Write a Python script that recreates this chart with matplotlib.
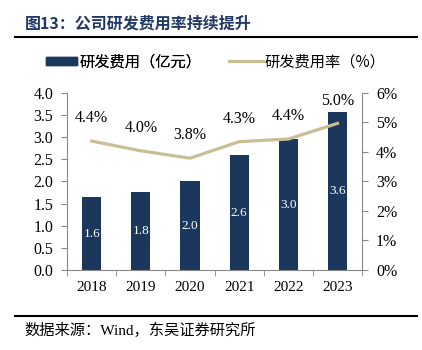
import matplotlib
matplotlib.use("Agg")
import matplotlib.pyplot as plt
from matplotlib.lines import Line2D
from matplotlib.patches import Patch
import numpy as np

years = ["2018", "2019", "2020", "2021", "2022", "2023"]
rd_expense = [1.64, 1.77, 2.01, 2.59, 2.96, 3.56]
rd_labels = ["1.6", "1.8", "2.0", "2.6", "3.0", "3.6"]
rd_rate = [4.37, 4.04, 3.79, 4.35, 4.44, 4.97]
rate_labels = ["4.4%", "4.0%", "3.8%", "4.3%", "4.4%", "5.0%"]

NAVY = "#1b375c"
KHAKI = "#c9bf95"
FONT = ["Liberation Serif", "Noto Sans CJK SC"]
CJK = ["Noto Sans CJK SC"]
plt.rcParams["font.family"] = FONT

fig = plt.figure(figsize=(4.22, 3.5), dpi=100)
ax = fig.add_axes([0.159, 0.2286, 0.699, 0.5057])
ax2 = ax.twinx()

x = np.arange(len(years))
ax.bar(x, rd_expense, width=0.39, color=NAVY, zorder=2)
for xi, v, lab in zip(x, rd_expense, rd_labels):
    ax.text(xi, v / 2, lab, color="white", ha="center", va="center", fontsize=9.5)

ax2.plot(x, rd_rate, color=KHAKI, lw=2.3, zorder=3)
for xi, v, lab in zip(x, rd_rate, rate_labels):
    ax2.text(xi, v + 0.5, lab, ha="center", va="bottom", fontsize=11.5)

ax.set_xlim(-0.5, len(years) - 0.5)
ax.set_ylim(0, 4.0)
ax.set_yticks(np.arange(0, 4.01, 0.5))
ax.set_yticklabels([f"{v:.1f}" for v in np.arange(0, 4.01, 0.5)])
ax2.set_ylim(0, 6)
ax2.set_yticks(range(0, 7))
ax2.set_yticklabels([f"{v}%" for v in range(0, 7)])

ax.set_xticks(x)
ax.set_xticklabels(years)
ax.set_xticks(np.arange(-0.5, len(years), 1), minor=True)
ax.tick_params(axis="x", which="major", length=0, pad=8, labelsize=11)
ax.tick_params(axis="x", which="minor", length=4, color="#888888")
ax.tick_params(axis="y", length=4, color="#888888", labelsize=11.5, pad=6)
ax2.tick_params(axis="y", length=4, color="#888888", labelsize=11.5, pad=6)

for a in (ax, ax2):
    a.spines["top"].set_visible(False)
    for s in ("left", "right", "bottom"):
        a.spines[s].set_color("#888888")
ax.spines["right"].set_visible(False)
ax2.spines["left"].set_visible(False)
ax2.spines["bottom"].set_visible(False)

leg_kw = dict(loc="center left", frameon=False, borderpad=0, borderaxespad=0,
              prop={"family": CJK, "size": 11})
leg1 = fig.legend([Patch(color=NAVY)], ["研发费用（亿元）"],
                  bbox_to_anchor=(46 / 422, 0.824), handlelength=2.0,
                  handleheight=0.45, handletextpad=0.2, **leg_kw)
fig.add_artist(leg1)
fig.legend([Line2D([0], [0], color=KHAKI, lw=2.3)], ["研发费用率（%）"],
           bbox_to_anchor=(229 / 422, 0.824), handlelength=2.2,
           handletextpad=0.15, **leg_kw)

fig.text(0.059, 0.934, "图13：公司研发费用率持续提升", fontsize=11.5, fontweight="bold",
         color="#1f3864", va="center", family=CJK)
fig.add_artist(Line2D([0.036, 0.988], [0.894, 0.894], color="black", lw=1.5))
fig.add_artist(Line2D([0.036, 0.988], [0.097, 0.097], color="black", lw=1.5))
fig.text(0.059, 0.055, "数据来源：Wind，东吴证券研究所", fontsize=11, va="center",
         family=FONT)

fig.savefig("out.png", dpi=100)
